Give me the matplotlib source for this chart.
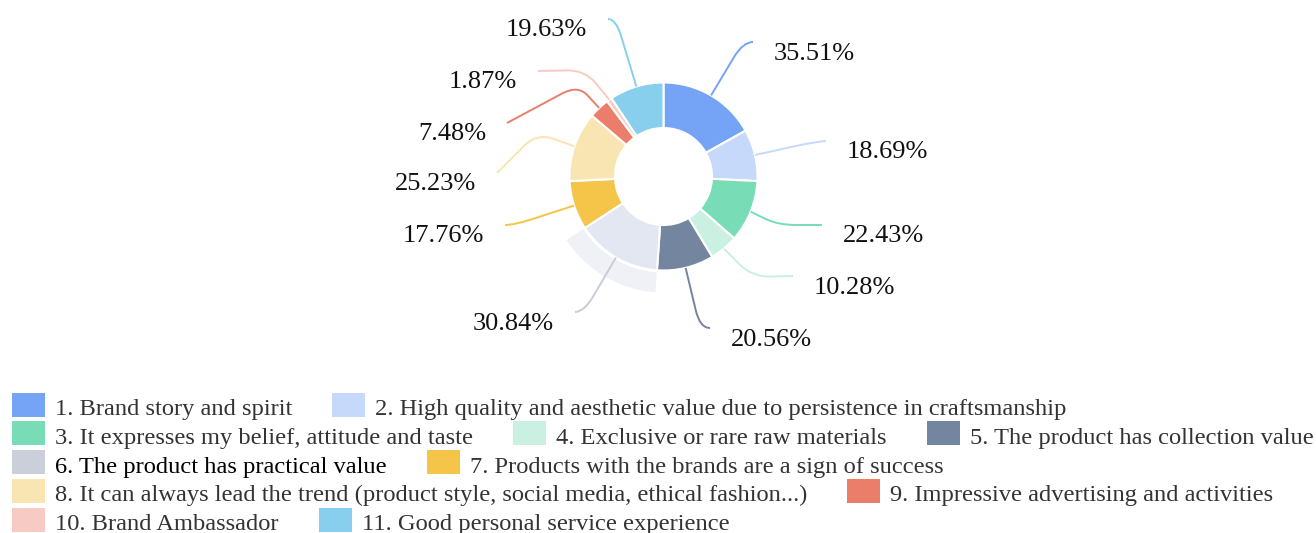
import numpy as np
import matplotlib
matplotlib.use("Agg")
import matplotlib.pyplot as plt
from matplotlib.path import Path
from matplotlib.patches import PathPatch, Rectangle

# ---------------- data ----------------
categories = [
    "1. Brand story and spirit",
    "2. High quality and aesthetic value due to persistence in craftsmanship",
    "3. It expresses my belief, attitude and taste",
    "4. Exclusive or rare raw materials",
    "5. The product has collection value",
    "6. The product has practical value",
    "7. Products with the brands are a sign of success",
    "8. It can always lead the trend (product style, social media, ethical fashion...)",
    "9. Impressive advertising and activities",
    "10. Brand Ambassador",
    "11. Good personal service experience",
]
values = [35.51, 18.69, 22.43, 10.28, 20.56, 30.84, 17.76, 25.23, 7.48, 1.87, 19.63]
label_texts = [f"{v:.2f}%" for v in values]

# ---------------- style ----------------
colors = ["#75a3f5", "#c7d9fa", "#78dcb6", "#c9f0e1", "#74859f", "#cbcfda",
          "#f5c54a", "#f9e5b1", "#ea7e6a", "#f7cbc3", "#87cfec"]
highlight = 5
highlight_slice = "#e3e7f2"
highlight_ring = "#eff1f6"
highlight_line = "#c9cdd9"

W, H = 1316, 533
fig = plt.figure(figsize=(W / 100, H / 100), dpi=100)
ax = fig.add_axes([0, 0, 1, 1])
plt.rcParams["font.family"] = ["Liberation Serif", "DejaVu Serif"]


def Y(py):
    return H - py


cx, cy = 663.5, Y(176.5)
r_out, r_in = 94.0, 48.5

# emphasis ring behind the highlighted slice
ring_colors = [(0, 0, 0, 0)] * len(values)
ring_colors[highlight] = highlight_ring
ax.pie(values, radius=116, center=(cx, cy), startangle=90, counterclock=False,
       colors=ring_colors, wedgeprops=dict(width=20, edgecolor="none"), frame=True)

slice_colors = list(colors)
slice_colors[highlight] = highlight_slice
wedges, _ = ax.pie(values, radius=r_out, center=(cx, cy), startangle=90,
                   counterclock=False, colors=slice_colors,
                   wedgeprops=dict(width=r_out - r_in, edgecolor="white", linewidth=1.5),
                   frame=True)

# leader line layout (pixel coords: elbow, end)
elbows = [(743, 42), (814, 142), (778, 225), (752, 277), (700, 328), (584, 312),
          (514, 225), (537, 133), (578, 85), (585, 70), (616, 19)]
ends = [(753, 42), (826, 141), (822, 225), (793, 276), (710, 328), (575, 312),
        (505, 225), (497, 173), (507, 123), (538, 71), (608, 19)]

renderer = fig.canvas.get_renderer()


def fit_size(text, target_px):
    t = ax.text(0, 0, text, fontsize=10)
    w = t.get_window_extent(renderer).width
    t.remove()
    return 10 * target_px / w


label_fs = fit_size("35.51%", 81)
legend_fs = fit_size(categories[0], 238)


def smooth_path(p0, p1, p2):
    p0, p1, p2 = map(np.asarray, (p0, p1, p2))
    l1 = np.linalg.norm(p1 - p0)
    l2 = np.linalg.norm(p2 - p1)
    m1 = min(0.45 * l1, 18.0)
    m2 = min(l2, 18.0)
    a = p1 + (p0 - p1) * m1 / l1
    b = p1 + (p2 - p1) * m2 / l2
    verts = [p0, a, p1, b, p2]
    codes = [Path.MOVETO, Path.LINETO, Path.CURVE3, Path.CURVE3, Path.LINETO]
    return Path(verts, codes)


for i, w in enumerate(wedges):
    mid = np.deg2rad((w.theta1 + w.theta2) / 2)
    p0 = (cx + r_out * np.cos(mid), cy + r_out * np.sin(mid))
    e = elbows[i]
    n = ends[i]
    p1 = (e[0], Y(e[1]))
    p2 = (n[0], Y(n[1]))
    lc = highlight_line if i == highlight else colors[i]
    ax.add_patch(PathPatch(smooth_path(p0, p1, p2), facecolor="none",
                           edgecolor=lc, linewidth=1.4, zorder=3))
    right = p2[0] > cx
    tx = p2[0] + 21 if right else p2[0] - 21
    ax.text(tx, p2[1] - 17.5, label_texts[i], ha="left" if right else "right",
            va="baseline", fontsize=label_fs, color="#111111", zorder=4)

# legend (flow layout, explicit row breaks)
rows = [[0, 1], [2, 3, 4], [5, 6], [7, 8], [9, 10]]
row_y0, row_step = 404.5, 28.75
box_w, box_h = 33, 24
for r, row in enumerate(rows):
    yc = row_y0 + r * row_step
    x = 12
    for i in row:
        ax.add_patch(Rectangle((x, Y(yc + box_h / 2)), box_w, box_h,
                               facecolor=colors[i], edgecolor="none"))
        t = ax.text(x + box_w + 10, Y(yc + 10.5), categories[i], ha="left",
                    va="baseline", fontsize=legend_fs,
                    color="#000000" if i == highlight else "#333333")
        tw = t.get_window_extent(renderer).width
        x = x + box_w + 10 + tw + 40

ax.set_xlim(0, W)
ax.set_ylim(0, H)
ax.set_aspect("equal")
ax.axis("off")

fig.savefig("out.png", dpi=100)
